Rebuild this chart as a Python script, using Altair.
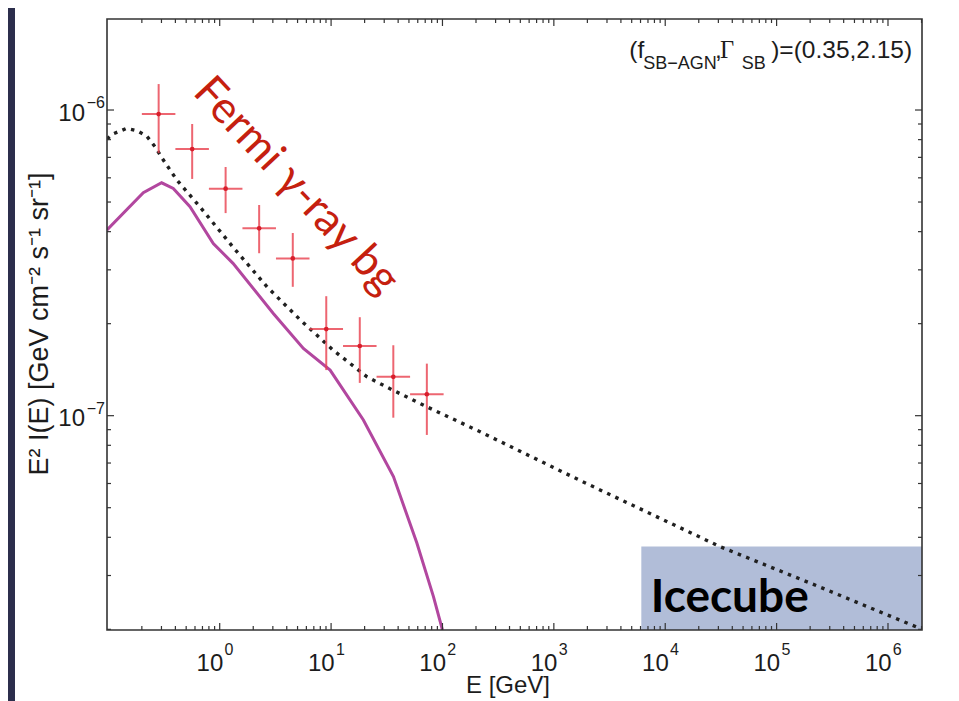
import altair as alt
import pandas as pd

# ---------------- data ----------------
x_domain = [0.0973, 2.02e6]
y_domain = [1.99e-8, 1.985e-6]

fermi_E = [0.283, 0.566, 1.13, 2.26, 4.53, 9.05, 18.1, 36.2, 72.4]
fermi_Elo = [0.2, 0.4, 0.8, 1.6, 3.2, 6.4, 12.8, 25.6, 51.2]
fermi_Ehi = [0.4, 0.8, 1.6, 3.2, 6.4, 12.8, 25.6, 51.2, 102.4]
fermi_I = [9.70e-7, 7.45e-7, 5.53e-7, 4.10e-7, 3.27e-7, 1.92e-7, 1.69e-7, 1.34e-7, 1.175e-7]
fermi_Ilo = [7.23e-7, 5.95e-7, 4.60e-7, 3.40e-7, 2.64e-7, 1.41e-7, 1.28e-7, 9.85e-8, 8.65e-8]
fermi_Ihi = [1.216e-6, 9.0e-7, 6.51e-7, 4.89e-7, 3.96e-7, 2.46e-7, 2.10e-7, 1.70e-7, 1.48e-7]

total_E = [0.0973, 0.11, 0.146, 0.18, 0.221, 0.263, 0.312, 0.413, 0.665, 1.317, 2.66,
           5.27, 10.4, 21.0, 35.7, 72.2, 218, 1718, 3.1e4, 2.45e5, 1.81e6, 2.02e6]
total_I = [8.04e-7, 8.35e-7, 8.71e-7, 8.56e-7, 8.22e-7, 7.58e-7, 6.86e-7, 5.90e-7, 4.82e-7,
           3.56e-7, 2.64e-7, 2.06e-7, 1.64e-7, 1.34e-7, 1.213e-7, 1.07e-7, 8.86e-8, 6.14e-8,
           3.73e-8, 2.75e-8, 2.035e-8, 2.01e-8]

sb_E = [0.0973, 0.206, 0.301, 0.383, 0.541, 0.876, 1.317, 3.03, 5.64, 9.8, 19.5, 36.3, 58.9, 83.0, 100.0]
sb_I = [4.05e-7, 5.36e-7, 5.78e-7, 5.54e-7, 4.83e-7, 3.66e-7, 3.15e-7, 2.16e-7, 1.66e-7,
        1.41e-7, 9.68e-8, 6.32e-8, 3.83e-8, 2.56e-8, 1.99e-8]

ice_E = [6.1e3, 2.02e6]
ice_I = [1.99e-8, 3.73e-8]

x_major = [1e0, 1e1, 1e2, 1e3, 1e4, 1e5, 1e6]
x_major_exp = ["0", "1", "2", "3", "4", "5", "6"]
y_major = [1e-7, 1e-6]
y_major_exp = ["\u22127", "\u22126"]

x_minor = [k * 10.0 ** d for d in range(-1, 7) for k in range(2, 10)
           if x_domain[0] < k * 10.0 ** d < x_domain[1]]
y_minor = [k * 10.0 ** d for d in range(-8, -5) for k in range(2, 10)
           if y_domain[0] < k * 10.0 ** d < y_domain[1]]

W, H = 815, 611
FONT = "Liberation Sans"
INK = "#1c1c1c"

xs = alt.Scale(type="log", domain=x_domain, nice=False)
ys = alt.Scale(type="log", domain=y_domain, nice=False)

one = pd.DataFrame({"a": [0]})
fermi_df = pd.DataFrame({"E": fermi_E, "Elo": fermi_Elo, "Ehi": fermi_Ehi,
                         "I": fermi_I, "Ilo": fermi_Ilo, "Ihi": fermi_Ihi})
total_df = pd.DataFrame({"E": total_E, "I": total_I})
sb_df = pd.DataFrame({"E": sb_E, "I": sb_I})
ice_df = pd.DataFrame({"x1": [ice_E[0]], "x2": [ice_E[1]], "y1": [ice_I[0]], "y2": [ice_I[1]]})
xmaj_df = pd.DataFrame({"v": x_major, "e": x_major_exp})
ymaj_df = pd.DataFrame({"v": y_major, "e": y_major_exp})
xmin_df = pd.DataFrame({"v": x_minor})
ymin_df = pd.DataFrame({"v": y_minor})

X = lambda f: alt.X(f, type="quantitative", scale=xs, axis=None)
Y = lambda f: alt.Y(f, type="quantitative", scale=ys, axis=None)

layers = []

# white figure panel
layers.append(alt.Chart(one).mark_rect(color="white").encode(
    x=alt.value(-92), x2=alt.value(848), y=alt.value(-11), y2=alt.value(682)))

# IceCube box
layers.append(alt.Chart(ice_df).mark_rect(color="#b1bdd8", clip=True).encode(
    x=X("x1"), x2="x2:Q", y=Y("y1"), y2="y2:Q"))

layers.append(alt.Chart(one).mark_text(
    text="Icecube", font="Lato", fontWeight="bold", fontSize=46, color="#000000",
    align="left", baseline="alphabetic").encode(x=alt.value(543.7), y=alt.value(592.7)))

# starburst (SB) component
layers.append(alt.Chart(sb_df).mark_line(color="#b2479f", strokeWidth=3, clip=True).encode(
    x=X("E"), y=Y("I")))

# total (dotted)
layers.append(alt.Chart(total_df).mark_line(
    color="#202020", strokeWidth=3.4, strokeDash=[3.5, 5.5], strokeCap="butt", clip=True).encode(
    x=X("E"), y=Y("I")))

# Fermi data crosses
layers.append(alt.Chart(fermi_df).mark_rule(color="#e8404e", strokeWidth=2, opacity=0.8).encode(
    x=X("E"), y=Y("Ilo"), y2="Ihi:Q"))
layers.append(alt.Chart(fermi_df).mark_rule(color="#e8404e", strokeWidth=2, opacity=0.8).encode(
    x=X("Elo"), x2="Ehi:Q", y=Y("I")))
layers.append(alt.Chart(fermi_df).mark_point(filled=True, size=22, color="#d81e2c", opacity=1).encode(
    x=X("E"), y=Y("I")))

layers.append(alt.Chart(one).mark_text(
    text="Fermi \u03b3-ray bg", font="Lato", fontSize=44, color="#c5200f", angle=47,
    align="left", baseline="alphabetic").encode(x=alt.value(84.7), y=alt.value(74.3)))

# ticks (inward, on all four sides)
def xticks(df, ln):
    return [
        alt.Chart(df).mark_rule(color="#333333", strokeWidth=1.2).encode(
            x=X("v"), y=alt.value(H), y2=alt.value(H - ln)),
        alt.Chart(df).mark_rule(color="#333333", strokeWidth=1.2).encode(
            x=X("v"), y=alt.value(0), y2=alt.value(ln)),
    ]

def yticks(df, ln):
    return [
        alt.Chart(df).mark_rule(color="#333333", strokeWidth=1.2).encode(
            y=Y("v"), x=alt.value(0), x2=alt.value(ln)),
        alt.Chart(df).mark_rule(color="#333333", strokeWidth=1.2).encode(
            y=Y("v"), x=alt.value(W), x2=alt.value(W - ln)),
    ]

layers += xticks(xmaj_df, 7) + xticks(xmin_df, 4) + yticks(ymaj_df, 7) + yticks(ymin_df, 4)

# frame
layers.append(alt.Chart(one).mark_rect(filled=False, stroke="#333333", strokeWidth=1.6).encode(
    x=alt.value(0), x2=alt.value(W), y=alt.value(0), y2=alt.value(H)))

# tick labels 10^n
layers.append(alt.Chart(xmaj_df).mark_text(
    text="10", font=FONT, fontSize=24, color=INK, align="right", baseline="alphabetic", dx=3.6).encode(
    x=X("v"), y=alt.value(651.7)))
layers.append(alt.Chart(xmaj_df).mark_text(
    font=FONT, fontSize=16, color=INK, align="left", baseline="alphabetic", dx=4.8).encode(
    x=X("v"), y=alt.value(636), text="e:N"))
layers.append(alt.Chart(ymaj_df).mark_text(
    text="10", font=FONT, fontSize=24, color=INK, align="right", baseline="alphabetic", dy=10.7).encode(
    y=Y("v"), x=alt.value(-22)))
layers.append(alt.Chart(ymaj_df).mark_text(
    font=FONT, fontSize=16, color=INK, align="right", baseline="alphabetic", dy=-1.8).encode(
    y=Y("v"), x=alt.value(-2), text="e:N"))

# axis titles
layers.append(alt.Chart(one).mark_text(
    text="E [GeV]", font=FONT, fontSize=24, color=INK, align="center", baseline="alphabetic").encode(
    x=alt.value(401), y=alt.value(674)))
layers.append(alt.Chart(one).mark_text(
    text="E\u00b2 I(E) [GeV cm\u207b\u00b2 s\u207b\u00b9 sr\u207b\u00b9]", font=FONT, fontSize=27,
    color=INK, angle=270, align="center", baseline="middle").encode(
    x=alt.value(-67), y=alt.value(305)))

# parameter annotation
ann = [
    ("(f", 522.3, 39, 24.5, FONT),
    ("SB\u2212AGN", 536.3, 50.3, 18, FONT),
    (",", 608, 39, 24.5, FONT),
    ("\u0393", 613, 39, 24.5, "Liberation Serif"),
    ("SB", 634.7, 50.3, 18, FONT),
    (")=(0.35,2.15)", 664.2, 39, 24.5, FONT),
]
for t, px, py, fs, fnt in ann:
    layers.append(alt.Chart(one).mark_text(
        text=t, font=fnt, fontSize=fs, color=INK, align="left", baseline="alphabetic").encode(
        x=alt.value(px), y=alt.value(py)))

chart = alt.layer(*layers).properties(
    width=W, height=H,
    padding={"left": 99, "top": 11, "right": 29, "bottom": 71},
    autosize=alt.AutoSizeParams(type="none"),
    background="#2c2e4c",
).configure_view(strokeWidth=0)

chart.save("out.html", embed_options={"renderer": "svg", "actions": False})
